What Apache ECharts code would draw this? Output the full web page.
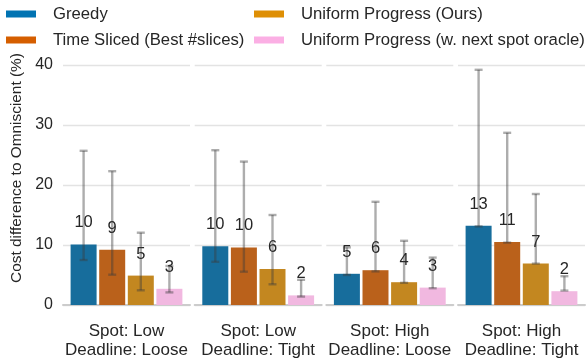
<!DOCTYPE html>
<html>
<head>
<meta charset="utf-8">
<script src="https://cdn.jsdelivr.net/npm/echarts@6/dist/echarts.min.js"></script>
<style>
  html, body { margin: 0; padding: 0; background: #ffffff; }
  #chart { width: 588px; height: 360px; }
</style>
</head>
<body>
<div id="chart"></div>
<script>
// Scenario facets (one panel each)
const groups = [
  'Spot: Low\nDeadline: Loose',
  'Spot: Low\nDeadline: Tight',
  'Spot: High\nDeadline: Loose',
  'Spot: High\nDeadline: Tight'
];

// Policies compared
const methods = [
  'Greedy',
  'Time Sliced (Best #slices)',
  'Uniform Progress (Ours)',
  'Uniform Progress (w. next spot oracle)'
];

// Mean cost difference to the omniscient policy (%), per facet
const greedy     = [10.1, 9.8, 5.2, 13.2];
const timeSliced = [9.2, 9.6, 5.8, 10.5];
const uniform    = [4.9, 6.0, 3.8, 6.9];
const oracle     = [2.7, 1.6, 2.9, 2.3];

// Error bar ranges (low / high), per facet
const greedyLo     = [7.5, 7.2, 5.0, 13.1];
const greedyHi     = [25.7, 25.8, 9.6, 39.2];
const timeSlicedLo = [5.05, 5.55, 5.6, 10.4];
const timeSlicedHi = [22.3, 23.9, 17.2, 28.7];
const uniformLo    = [2.45, 3.45, 3.7, 6.9];
const uniformHi    = [12.05, 15.0, 10.7, 18.5];
const oracleLo     = [2.1, 1.4, 2.8, 2.4];
const oracleHi     = [6.5, 4.2, 7.9, 4.8];

// Y axis ticks
const yMin = 0, yMax = 40, yStep = 10;

const values = [greedy, timeSliced, uniform, oracle];
const lows   = [greedyLo, timeSlicedLo, uniformLo, oracleLo];
const highs  = [greedyHi, timeSlicedHi, uniformHi, oracleHi];

const legendColors = ['#0173b2', '#d55e00', '#de8f05', '#fbafe4'];
const barColors    = ['#176d9c', '#ba611b', '#c38720', '#f1b8e0'];

const FONT = '"Liberation Sans", Arial, Helvetica, sans-serif';
const TEXT = '#262626';
const BAR_W = 26;
const BAR_GAP = 0.1;

const panelLefts = [63, 194.7, 326.3, 458];
const panelWidth = 127;

const grids = [], xAxes = [], yAxes = [], series = [];

groups.forEach((g, gi) => {
  grids.push({ left: panelLefts[gi], width: panelWidth, top: 65, height: 240 });
  xAxes.push({
    type: 'category',
    gridIndex: gi,
    data: [g],
    axisLine: { show: true, lineStyle: { color: '#cccccc', width: 2 } },
    axisTick: { show: false },
    axisLabel: {
      fontFamily: FONT, fontSize: 17, color: TEXT, lineHeight: 19, margin: 17
    }
  });
  yAxes.push({
    type: 'value',
    gridIndex: gi,
    min: yMin, max: yMax, interval: yStep,
    axisLine: { show: false },
    axisTick: { show: false },
    axisLabel: {
      show: gi === 0, fontFamily: FONT, fontSize: 16, color: TEXT, margin: 10
    },
    splitLine: { show: true, lineStyle: { color: '#e3e3e3', width: 1.3 } }
  });

  methods.forEach((m, mi) => {
    series.push({
      type: 'bar',
      name: m,
      xAxisIndex: gi,
      yAxisIndex: gi,
      data: [values[mi][gi]],
      barWidth: BAR_W,
      barGap: (BAR_GAP * 100) + '%',
      z: 2,
      itemStyle: { color: barColors[mi] },
      label: {
        show: true,
        position: 'top',
        distance: 13,
        fontFamily: FONT,
        fontSize: 16.5,
        color: TEXT,
        formatter: p => String(Math.round(p.value))
      }
    });
  });

  // Error bars for the four policies in this facet
  series.push({
    type: 'custom',
    xAxisIndex: gi,
    yAxisIndex: gi,
    z: 3,
    silent: true,
    encode: { x: 0, y: [1, 2] },
    data: methods.map((m, mi) => [0, lows[mi][gi], highs[mi][gi], mi]),
    renderItem: (params, api) => {
      const mi = api.value(3);
      const lo = api.coord([0, api.value(1)]);
      const hi = api.coord([0, api.value(2)]);
      const step = BAR_W * (1 + BAR_GAP);
      const x = lo[0] + (mi - 1.5) * step;
      const cap = 4;
      const style = { stroke: 'rgba(60,60,60,0.42)', lineWidth: 2.4, fill: null };
      return {
        type: 'group',
        children: [
          { type: 'line', shape: { x1: x, y1: lo[1], x2: x, y2: hi[1] }, style },
          { type: 'line', shape: { x1: x - cap, y1: hi[1], x2: x + cap, y2: hi[1] }, style },
          { type: 'line', shape: { x1: x - cap, y1: lo[1], x2: x + cap, y2: lo[1] }, style }
        ]
      };
    }
  });
});

const legendText = {
  fontFamily: FONT, fontSize: 16.7, color: TEXT, lineHeight: 18, padding: [0, 0, 0, 12]
};

const option = {
  animation: false,
  backgroundColor: '#ffffff',
  legend: [
    {
      left: 6, top: 5, padding: 0, orient: 'vertical', icon: 'rect',
      itemWidth: 30, itemHeight: 7, itemGap: 8, selectedMode: false,
      textStyle: legendText,
      data: [0, 1].map(i => ({ name: methods[i], itemStyle: { color: legendColors[i] } }))
    },
    {
      left: 254, top: 5, padding: 0, orient: 'vertical', icon: 'rect',
      itemWidth: 30, itemHeight: 7, itemGap: 8, selectedMode: false,
      textStyle: legendText,
      data: [2, 3].map(i => ({ name: methods[i], itemStyle: { color: legendColors[i] } }))
    }
  ],
  grid: grids,
  xAxis: xAxes,
  yAxis: yAxes,
  series: series,
  graphic: [
    {
      type: 'text',
      x: 17, y: 168,
      rotation: Math.PI / 2,
      style: {
        text: 'Cost difference to Omniscient (%)',
        fontFamily: FONT, fontSize: 15.4, fill: TEXT,
        align: 'center', verticalAlign: 'middle'
      }
    }
  ]
};

const chart = echarts.init(document.getElementById('chart'), null, { renderer: 'canvas' });
chart.setOption(option);
</script>
</body>
</html>
